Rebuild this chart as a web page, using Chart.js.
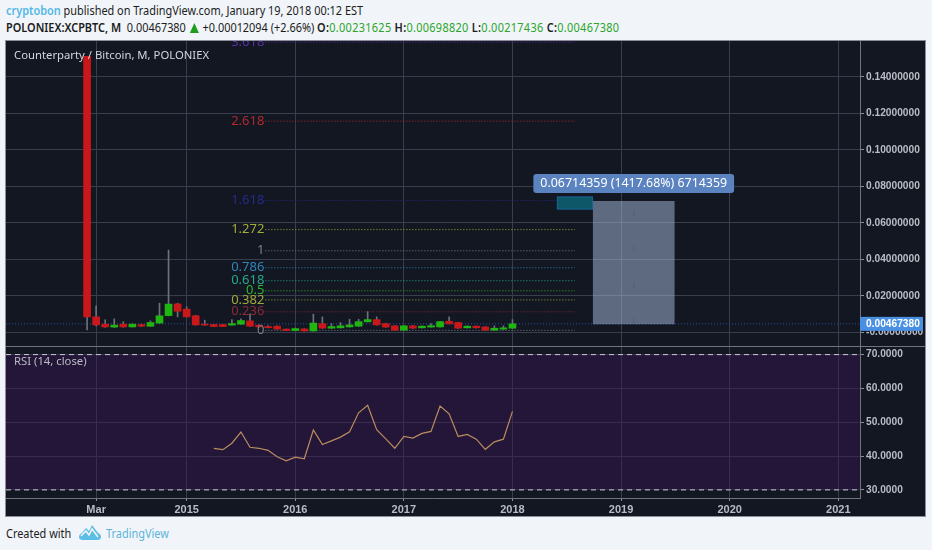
<!DOCTYPE html>
<html><head><meta charset="utf-8">
<script src="https://cdn.jsdelivr.net/npm/chart.js@4"></script>
<style>
html,body{margin:0;padding:0;background:#f1f5f9;width:932px;height:550px;overflow:hidden;font-family:"Noto Sans",sans-serif;color:#1c1c1c}
.t{position:absolute;white-space:nowrap;font-size:12px;line-height:16px;transform:scaleX(.91);transform-origin:left center}
#frame{position:absolute;left:6px;top:41px;width:919px;height:475px;background:#70747f;outline:1px solid #8b8f99}
canvas{position:absolute;left:0;display:block}
.tri{display:inline-block;width:0;height:0;border-left:5.5px solid transparent;border-right:5.5px solid transparent;border-bottom:10px solid #1e9e1e;vertical-align:-1px;margin:0 1px}
.ohlc{letter-spacing:.33px}
</style></head><body>
<div class="t" style="left:6px;top:3px"><span style="color:#53b8e6;font-weight:600">cryptobon</span> published on TradingView.com, January 19, 2018 00:12 EST</div>
<div class="t" style="left:6px;top:20px"><span style="font-weight:600">POLONIEX:XCPBTC, M</span>&nbsp; 0.00467380 <span class="tri"></span> +0.00012094 (+2.66%) <span class="ohlc"><span style="font-weight:600">O:</span><span style="color:#2aa52a">0.00231625</span> <span style="font-weight:600">H:</span><span style="color:#2aa52a">0.00698820</span> <span style="font-weight:600">L:</span><span style="color:#2aa52a">0.00217436</span> <span style="font-weight:600">C:</span><span style="color:#2aa52a">0.00467380</span></span></div>
<div id="frame">
<canvas id="price" width="919" height="305" style="top:0"></canvas>
<canvas id="rsi" width="919" height="169" style="top:306px"></canvas>
</div>
<div class="t" style="left:6px;top:526px">Created with</div>
<svg style="position:absolute;left:79px;top:525px" width="22" height="16" viewBox="0 0 22 16"><path d="M0 12 Q0 9 3 8 L7 3 L10 6 L13 0 L19 8 Q22 9 22 12 Q22 15 18 15 L4 15 Q0 15 0 12Z" fill="#5cbde6"/><path d="M2 11 L7 6 L10 10 L13 4 L19 12" fill="none" stroke="#f1f5f9" stroke-width="1.6"/></svg>
<div class="t" style="left:106px;top:526px;color:#5cb4dc">TradingView</div>
<script>
const months=[1,2,3,4,5,6,7,8,9,10,11,12,13,14,15,16,17,18,19,20,21,22,23,24,25,26,27,28,29,30,31,32,33,34,35,36,37,38,39,40,41,42,43,44,45,46,47,48];
const opens=[.1512,.0085,.0045,.0029,.0045,.0030,.0043,.0034,.0051,.0092,.0156,.0127,.0091,.0045,.0043,.0043,.0040,.0045,.0063,.0040,.0032,.0034,.0018,.0010,.0019,.0008,.0048,.0023,.0025,.0030,.0034,.0058,.0070,.0048,.0036,.0012,.0036,.0025,.0029,.0030,.0061,.0054,.0025,.0034,.0030,.0012,.0018,.0023];
const closes=[.0085,.0041,.0030,.0040,.0030,.0045,.0034,.0054,.0091,.0155,.0116,.0085,.0041,.0040,.0032,.0032,.0048,.0065,.0034,.0030,.0026,.0018,.0010,.0021,.0008,.0051,.0023,.0032,.0036,.0041,.0059,.0070,.0041,.0029,.0012,.0036,.0023,.0034,.0037,.0059,.0047,.0023,.0034,.0025,.0012,.0023,.0025,.0047];
const highs=[.1512,.0145,.0069,.0074,.0059,.0047,.0045,.0063,.0160,.0451,.0160,.0140,.0094,.0067,.0044,.0044,.0070,.0074,.0102,.0041,.0037,.0036,.0019,.0024,.0020,.0100,.0085,.0048,.0054,.0072,.0072,.0114,.0085,.0050,.0037,.0037,.0037,.0036,.0048,.0060,.0085,.0055,.0036,.0035,.0031,.0036,.0036,.0070];
const lows=[.0014,.0035,.0028,.0027,.0028,.0029,.0032,.0033,.0050,.0090,.0085,.0085,.0040,.0039,.0031,.0031,.0039,.0044,.0033,.0029,.0025,.0017,.0009,.0010,.0007,.0007,.0022,.0022,.0024,.0029,.0033,.0057,.0040,.0028,.0011,.0011,.0022,.0024,.0028,.0029,.0046,.0022,.0024,.0024,.0011,.0011,.0017,.0022];
const rsiMonths=[15,16,17,18,19,20,21,22,23,24,25,26,27,28,29,30,31,32,33,34,35,36,37,38,39,40,41,42,43,44,45,46,47,48];
const rsiValues=[42.3,41.9,43.8,47.1,42.6,42.3,41.7,39.8,38.6,39.7,39.2,47.7,43.4,44.5,45.6,47.2,52.8,55.0,47.8,45.1,42.3,45.8,45.3,46.7,47.3,54.8,52.5,45.8,46.4,45.0,42.0,44.2,45.0,53.2];
const xTickMonths=[2,12,24,36,48,60,72,84];
const xTickLabels=["Mar","2015","2016","2017","2018","2019","2020","2021"];
const priceTicks=[0,.02,.04,.06,.08,.10,.12,.14];
const priceTickLabels=["-0.00000000","0.02000000","0.04000000","0.06000000","0.08000000","0.10000000","0.12000000","0.14000000"];
const rsiTicks=[30,40,50,60,70];
const rsiTickLabels=["30.0000","40.0000","50.0000","60.0000","70.0000"];
const fibLabels=["3.618","2.618","1.618","1.272","1","0.786","0.618","0.5","0.382","0.236","0"];
const fibPrices=[.1590,.1157,.0722,.0563,.0447,.0354,.0283,.0228,.0178,.0113,.0011];
const fibColors=["#5a2ea6","#b3282d","#262a8c","#a3ad38","#7b7f8a","#2f86b8","#27a68e","#2fb52f","#a3a83a","#8c2a38","#7b7f8a"];
const fibRange=[20.7,54.9];
const lastPrice=.0046738, lastPriceLabel="0.00467380";
const boxRange=[56.9,65.9], boxPrices=[.00467,.0718];
const tealCenter=54.9, tealPrices=[.0674,.0744];
const measureLabel="0.06714359 (1417.68%) 6714359", measureAt=[61.4,.0815];
const priceTitle="Counterparty / Bitcoin, M, POLONIEX", rsiTitle="RSI (14, close)";
const xMin=-7.96,xMax=86.4;

const BG="#131722",GRID="#393e4e",AX="#b9bcc4",AXF="bold 10.2px 'Liberation Sans',Arial,sans-serif";
const UP="#1fb70f",DN="#c9171a",WICK="#6d717c";
const bgPlugin={id:"bg",beforeDraw(c){const x=c.ctx;x.fillStyle=BG;x.fillRect(0,0,c.width,c.height);}};
function xScale(show){return {type:"linear",min:xMin,max:xMax,offset:false,
  grid:{color:GRID,offset:false,drawTicks:show,tickLength:3,tickColor:"#8b8f99"},
  border:{display:show,color:"#70747f"},
  afterBuildTicks(a){a.ticks=xTickMonths.map(v=>({value:v}));},
  afterFit(a){a.height=show?18:0;a.paddingLeft=0;a.paddingRight=0;},
  ticks:{display:show,autoSkip:false,maxRotation:0,padding:2,color:AX,font:{family:"'Liberation Sans',Arial,sans-serif",size:11,weight:"bold"},
    callback:v=>xTickLabels[xTickMonths.indexOf(v)]??""}};}
function yScale(min,max,vals,labs){return {type:"linear",position:"right",min,max,
  grid:{color:GRID,tickLength:4,tickColor:"#8b8f99"},border:{color:"#70747f"},
  afterBuildTicks(a){a.ticks=vals.map(v=>({value:v}));},
  afterFit(a){a.width=65;a.paddingTop=0;a.paddingBottom=0;},
  ticks:{autoSkip:false,padding:2,color:AX,font:{family:"'Liberation Sans',Arial,sans-serif",size:10.2,weight:"bold"},
    callback:v=>labs[vals.indexOf(v)]??""}};}

const annot={id:"annot",afterDraw(c){
  const x=c.ctx,sx=c.scales.x,sy=c.scales.y;
  x.save();x.textBaseline="middle";
  x.font="13px 'Noto Sans',sans-serif";x.textAlign="right";
  fibLabels.forEach((l,i)=>{x.fillStyle=fibColors[i];x.fillText(l,sx.getPixelForValue(fibRange[0])-1,sy.getPixelForValue(fibPrices[i]));});
  x.font="11.3px 'Noto Sans',sans-serif";
  x.textAlign="left";x.fillStyle="#d3d6dc";x.fillText(priceTitle,8,15);
  x.font="12.4px 'Noto Sans',sans-serif";x.textAlign="center";
  const mx=sx.getPixelForValue(measureAt[0]),my=sy.getPixelForValue(measureAt[1]),w=x.measureText(measureLabel).width+14;
  x.fillStyle="#5b83bf";x.beginPath();x.roundRect(mx-w/2,my-9.5,w,19,3);x.fill();
  x.fillStyle="#fff";x.fillText(measureLabel,mx,my);
  const py=sy.getPixelForValue(lastPrice),ax=sx.right;
  x.fillStyle="#4a90e2";x.fillRect(ax,py-7,63,14);
  x.fillStyle="#fff";x.font=AXF;x.textAlign="left";x.fillText(lastPriceLabel,ax+6,py);
  x.restore();
}};
const fibSets=fibPrices.map((p,i)=>({type:"line",data:[{x:fibRange[0],y:p},{x:fibRange[1],y:p}],borderColor:fibColors[i],borderWidth:1,borderDash:[1,2],pointRadius:0,order:6}));
const boxMid=(boxRange[0]+boxRange[1])/2;
new Chart(document.getElementById("price"),{type:"bar",plugins:[bgPlugin,annot],
 data:{datasets:[
  {data:months.map((m,i)=>({x:m,y:[opens[i],closes[i]]})),backgroundColor:months.map((m,i)=>closes[i]>=opens[i]?UP:DN),barThickness:7,grouped:false,borderSkipped:false,order:1},
  {data:months.map((m,i)=>({x:m,y:[lows[i],highs[i]]})),backgroundColor:WICK,barThickness:1,grouped:false,order:2},
  {type:"line",data:[{x:boxMid,y:boxPrices[0]},{x:boxMid,y:boxPrices[1]}],borderColor:"rgba(80,90,108,.7)",borderWidth:1,borderDash:[6,30],pointRadius:0,order:3.5},
  {data:[{x:boxMid,y:boxPrices}],backgroundColor:"rgba(168,190,222,.5)",barThickness:81,grouped:false,order:4},
  {data:[{x:tealCenter,y:tealPrices}],backgroundColor:"#0e5768",borderColor:"#1a6aa6",borderWidth:1,borderSkipped:false,barThickness:36,grouped:false,order:3},
  {type:"line",data:[{x:xMin,y:lastPrice},{x:xMax,y:lastPrice}],borderColor:"#2b4f9e",borderWidth:1,borderDash:[1,2],pointRadius:0,order:5},
  ...fibSets]},
 options:{responsive:false,animation:false,events:[],layout:{padding:0},
  plugins:{legend:{display:false},tooltip:{enabled:false}},
  scales:{x:xScale(false),y:yScale(-.00745,.1596,priceTicks,priceTickLabels)}}});

const rsiAnnot={id:"rsiAnnot",afterDraw(c){const x=c.ctx;x.save();x.font="11.3px 'Noto Sans',sans-serif";x.fillStyle="#b9bcc4";x.textBaseline="middle";x.fillText(rsiTitle,8,15);x.restore();}};
const rsiBand=[70,30];
new Chart(document.getElementById("rsi"),{type:"line",plugins:[bgPlugin,rsiAnnot],
 data:{datasets:[
  {data:rsiMonths.map((m,i)=>({x:m,y:rsiValues[i]})),borderColor:"#b98c5e",borderWidth:1.2,pointRadius:0,tension:0,order:1},
  {data:[{x:xMin,y:rsiBand[0]},{x:xMax,y:rsiBand[0]}],borderColor:"rgba(0,0,0,0)",backgroundColor:"rgba(57,23,87,.45)",pointRadius:0,fill:{value:rsiBand[1]},order:5},
  {data:[{x:xMin,y:rsiBand[0]},{x:xMax,y:rsiBand[0]}],borderColor:"#c9ccd3",borderWidth:1,borderDash:[5,4],pointRadius:0,order:2},
  {data:[{x:xMin,y:rsiBand[1]},{x:xMax,y:rsiBand[1]}],borderColor:"#c9ccd3",borderWidth:1,borderDash:[5,4],pointRadius:0,order:2}
 ]},
 options:{responsive:false,animation:false,events:[],layout:{padding:0},
  plugins:{legend:{display:false},tooltip:{enabled:false}},
  scales:{x:xScale(true),y:yScale(27.6,72.25,rsiTicks,rsiTickLabels)}}});
</script>
</body></html>
